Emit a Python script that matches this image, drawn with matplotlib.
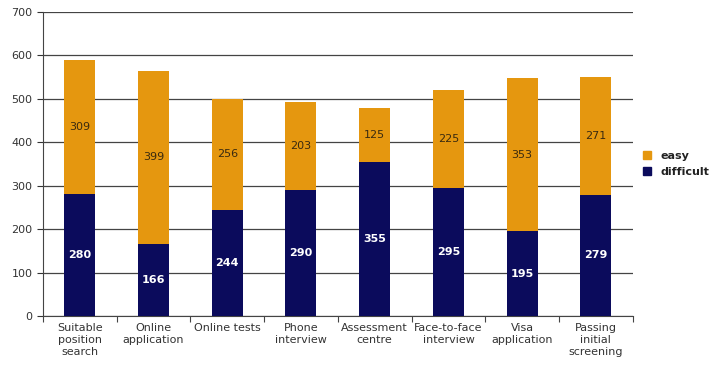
import matplotlib
matplotlib.use("Agg")
import matplotlib.pyplot as plt
from matplotlib.patches import Patch
import numpy as np

categories = ["Suitable\nposition\nsearch", "Online\napplication", "Online tests",
              "Phone\ninterview", "Assessment\ncentre", "Face-to-face\ninterview",
              "Visa\napplication", "Passing\ninitial\nscreening"]
difficult = [280, 166, 244, 290, 355, 295, 195, 279]
easy = [309, 399, 256, 203, 125, 225, 353, 271]

ORANGE = "#E5970F"
NAVY = "#0B0B5C"

plt.rcParams["font.family"] = "DejaVu Sans"

fig = plt.figure(figsize=(7.15, 3.77), dpi=100)
ax = fig.add_axes([0.060, 0.162, 0.825, 0.806])

x = np.arange(len(categories))
bw = 0.42
ax.bar(x, difficult, width=bw, color=NAVY, zorder=3)
ax.bar(x, easy, width=bw, bottom=difficult, color=ORANGE, zorder=3)

for xi, d, e in zip(x, difficult, easy):
    ax.text(xi, d / 2, str(d), ha="center", va="center", color="white",
            fontsize=8, fontweight="bold", zorder=4)
    ax.text(xi, d + e / 2, str(e), ha="center", va="center", color="#3a2a10",
            fontsize=8, zorder=4)

ax.set_xlim(-0.5, len(categories) - 0.5)
ax.set_ylim(0, 700)
ax.set_yticks(range(0, 701, 100))
ax.yaxis.grid(True, color="#444444", linewidth=0.9, zorder=0)
ax.set_axisbelow(True)

# ticks at category boundaries, labels centred under bars
ax.set_xticks(np.arange(-0.5, len(categories), 1))
ax.set_xticklabels([])
ax.set_xticks(x, minor=True)
ax.set_xticklabels(categories, minor=True, fontsize=8, color="#333333", linespacing=1.25)
ax.tick_params(axis="x", which="minor", length=0, pad=5)
ax.tick_params(axis="x", which="major", length=4, color="#444444")
ax.tick_params(axis="y", length=4, labelsize=8, colors="#333333")

for side in ["top", "right"]:
    ax.spines[side].set_visible(False)
ax.spines["left"].set_color("#444444")
ax.spines["bottom"].set_color("#444444")

handles = [Patch(color=ORANGE, label="easy"), Patch(color=NAVY, label="difficult")]
leg = fig.legend(handles=handles, loc="center left", bbox_to_anchor=(0.885, 0.565),
                 frameon=False, fontsize=8, handlelength=0.7, handleheight=0.7,
                 handletextpad=0.9, labelspacing=0.5)
for t in leg.get_texts():
    t.set_fontweight("bold")
    t.set_color("#222222")

fig.savefig("out.png", dpi=100)
